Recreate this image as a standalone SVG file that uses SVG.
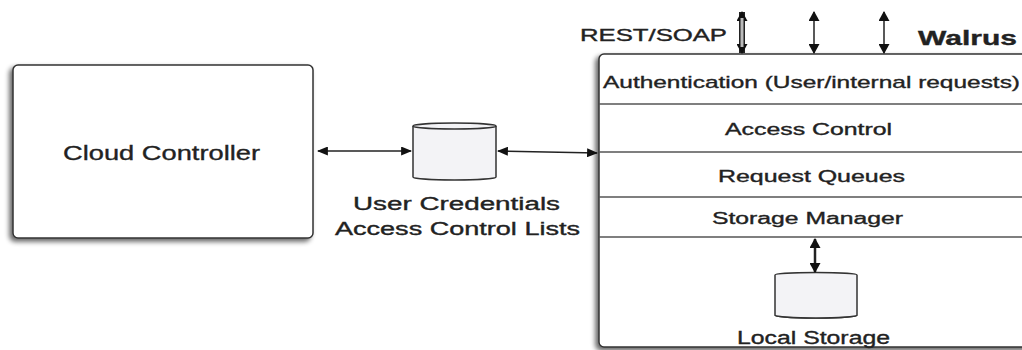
<svg xmlns="http://www.w3.org/2000/svg" width="1022" height="350" viewBox="0 0 1022 350">
<style>
.t{font-family:"Liberation Sans",Arial,sans-serif;fill:#222;stroke:#222;stroke-width:0.35}
.box{fill:#fff;stroke:#333;stroke-width:1.5}
.div{stroke:#555;stroke-width:1.3}
.cyl{fill:#f3f3f6;stroke:#333;stroke-width:1.5}
.con{stroke:#222;stroke-width:1.5;fill:none}
</style>
<defs>
<filter id="sh" x="-10%" y="-10%" width="120%" height="120%">
<feGaussianBlur in="SourceAlpha" stdDeviation="2.5"/>
<feOffset dx="-3" dy="3" result="b"/>
<feComponentTransfer><feFuncA type="linear" slope="0.6"/></feComponentTransfer>
<feMerge><feMergeNode/><feMergeNode in="SourceGraphic"/></feMerge>
</filter>
<marker id="ah" viewBox="0 0 10 10" refX="9" refY="5" markerWidth="11" markerHeight="9" markerUnits="userSpaceOnUse" orient="auto-start-reverse" preserveAspectRatio="none">
<path d="M0,0 L10,5 L0,10 Z" fill="#111"/>
</marker>
<marker id="ahb" viewBox="0 0 10 10" refX="9" refY="5" markerWidth="10" markerHeight="11" markerUnits="userSpaceOnUse" orient="auto-start-reverse" preserveAspectRatio="none">
<path d="M0,0 L10,5 L0,10 Z" fill="#111"/>
</marker>
</defs>

<g id="cloud-controller">
<rect class="box" x="13" y="65" width="300" height="173" rx="5" filter="url(#sh)"/>
<text class="t" x="63" y="160" font-size="21" textLength="197" lengthAdjust="spacingAndGlyphs">Cloud Controller</text>
</g>

<g id="user-credentials">
<path class="cyl" d="M413,126 A41.5,3 0 0 1 496,126 V177 A41.5,3 0 0 1 413,177 Z"/>
<path class="cyl" fill="none" d="M413,126 A41.5,3 0 0 0 496,126"/>
<text class="t" x="353" y="210" font-size="18" textLength="207" lengthAdjust="spacingAndGlyphs">User Credentials</text>
<text class="t" x="335" y="235" font-size="18" textLength="245" lengthAdjust="spacingAndGlyphs">Access Control Lists</text>
</g>

<g id="walrus">
<rect class="box" x="599" y="54" width="450" height="293" rx="5" filter="url(#sh)"/>
<line class="div" x1="599" y1="104" x2="1022" y2="104"/>
<line class="div" x1="599" y1="152" x2="1022" y2="152"/>
<line class="div" x1="599" y1="197" x2="1022" y2="197"/>
<line class="div" x1="599" y1="237" x2="1022" y2="237"/>
<text class="t" x="918" y="45" font-size="20" font-weight="bold" textLength="99" lengthAdjust="spacingAndGlyphs">Walrus</text>
<text class="t" x="603" y="88" font-size="17" textLength="417" lengthAdjust="spacingAndGlyphs">Authentication (User/internal requests)</text>
<text class="t" x="725" y="135" font-size="16" textLength="167" lengthAdjust="spacingAndGlyphs">Access Control</text>
<text class="t" x="718" y="182" font-size="16" textLength="187" lengthAdjust="spacingAndGlyphs">Request Queues</text>
<text class="t" x="712" y="224" font-size="16" textLength="191" lengthAdjust="spacingAndGlyphs">Storage Manager</text>
</g>

<g id="local-storage">
<path class="cyl" d="M775,275 A41,2.5 0 0 1 857,275 V315 A41,3 0 0 1 775,315 Z"/>
<path class="cyl" fill="none" d="M775,315 A41,3 0 0 0 857,315"/>
<text class="t" x="737" y="344" font-size="18" textLength="153" lengthAdjust="spacingAndGlyphs">Local Storage</text>
</g>

<g id="rest-soap">
<text class="t" x="580" y="41" font-size="16" textLength="147" lengthAdjust="spacingAndGlyphs">REST/SOAP</text>
</g>

<g id="connectors">
<line class="con" x1="318" y1="151" x2="411" y2="151" marker-start="url(#ah)" marker-end="url(#ah)"/>
<line class="con" x1="498" y1="151" x2="597" y2="153" marker-start="url(#ah)" marker-end="url(#ah)"/>
<line x1="742" y1="12" x2="742" y2="53" stroke="#222" stroke-width="6" marker-start="url(#ahb)" marker-end="url(#ahb)"/>
<line x1="742" y1="18" x2="742" y2="47" stroke="#bbb" stroke-width="3"/>
<line class="con" x1="814" y1="12" x2="814" y2="53" marker-start="url(#ahb)" marker-end="url(#ahb)"/>
<line class="con" x1="884" y1="12" x2="884" y2="53" marker-start="url(#ahb)" marker-end="url(#ahb)"/>
<line x1="815" y1="239" x2="815" y2="272" stroke="#222" stroke-width="2.5" marker-start="url(#ahb)" marker-end="url(#ahb)"/>
</g>
</svg>
